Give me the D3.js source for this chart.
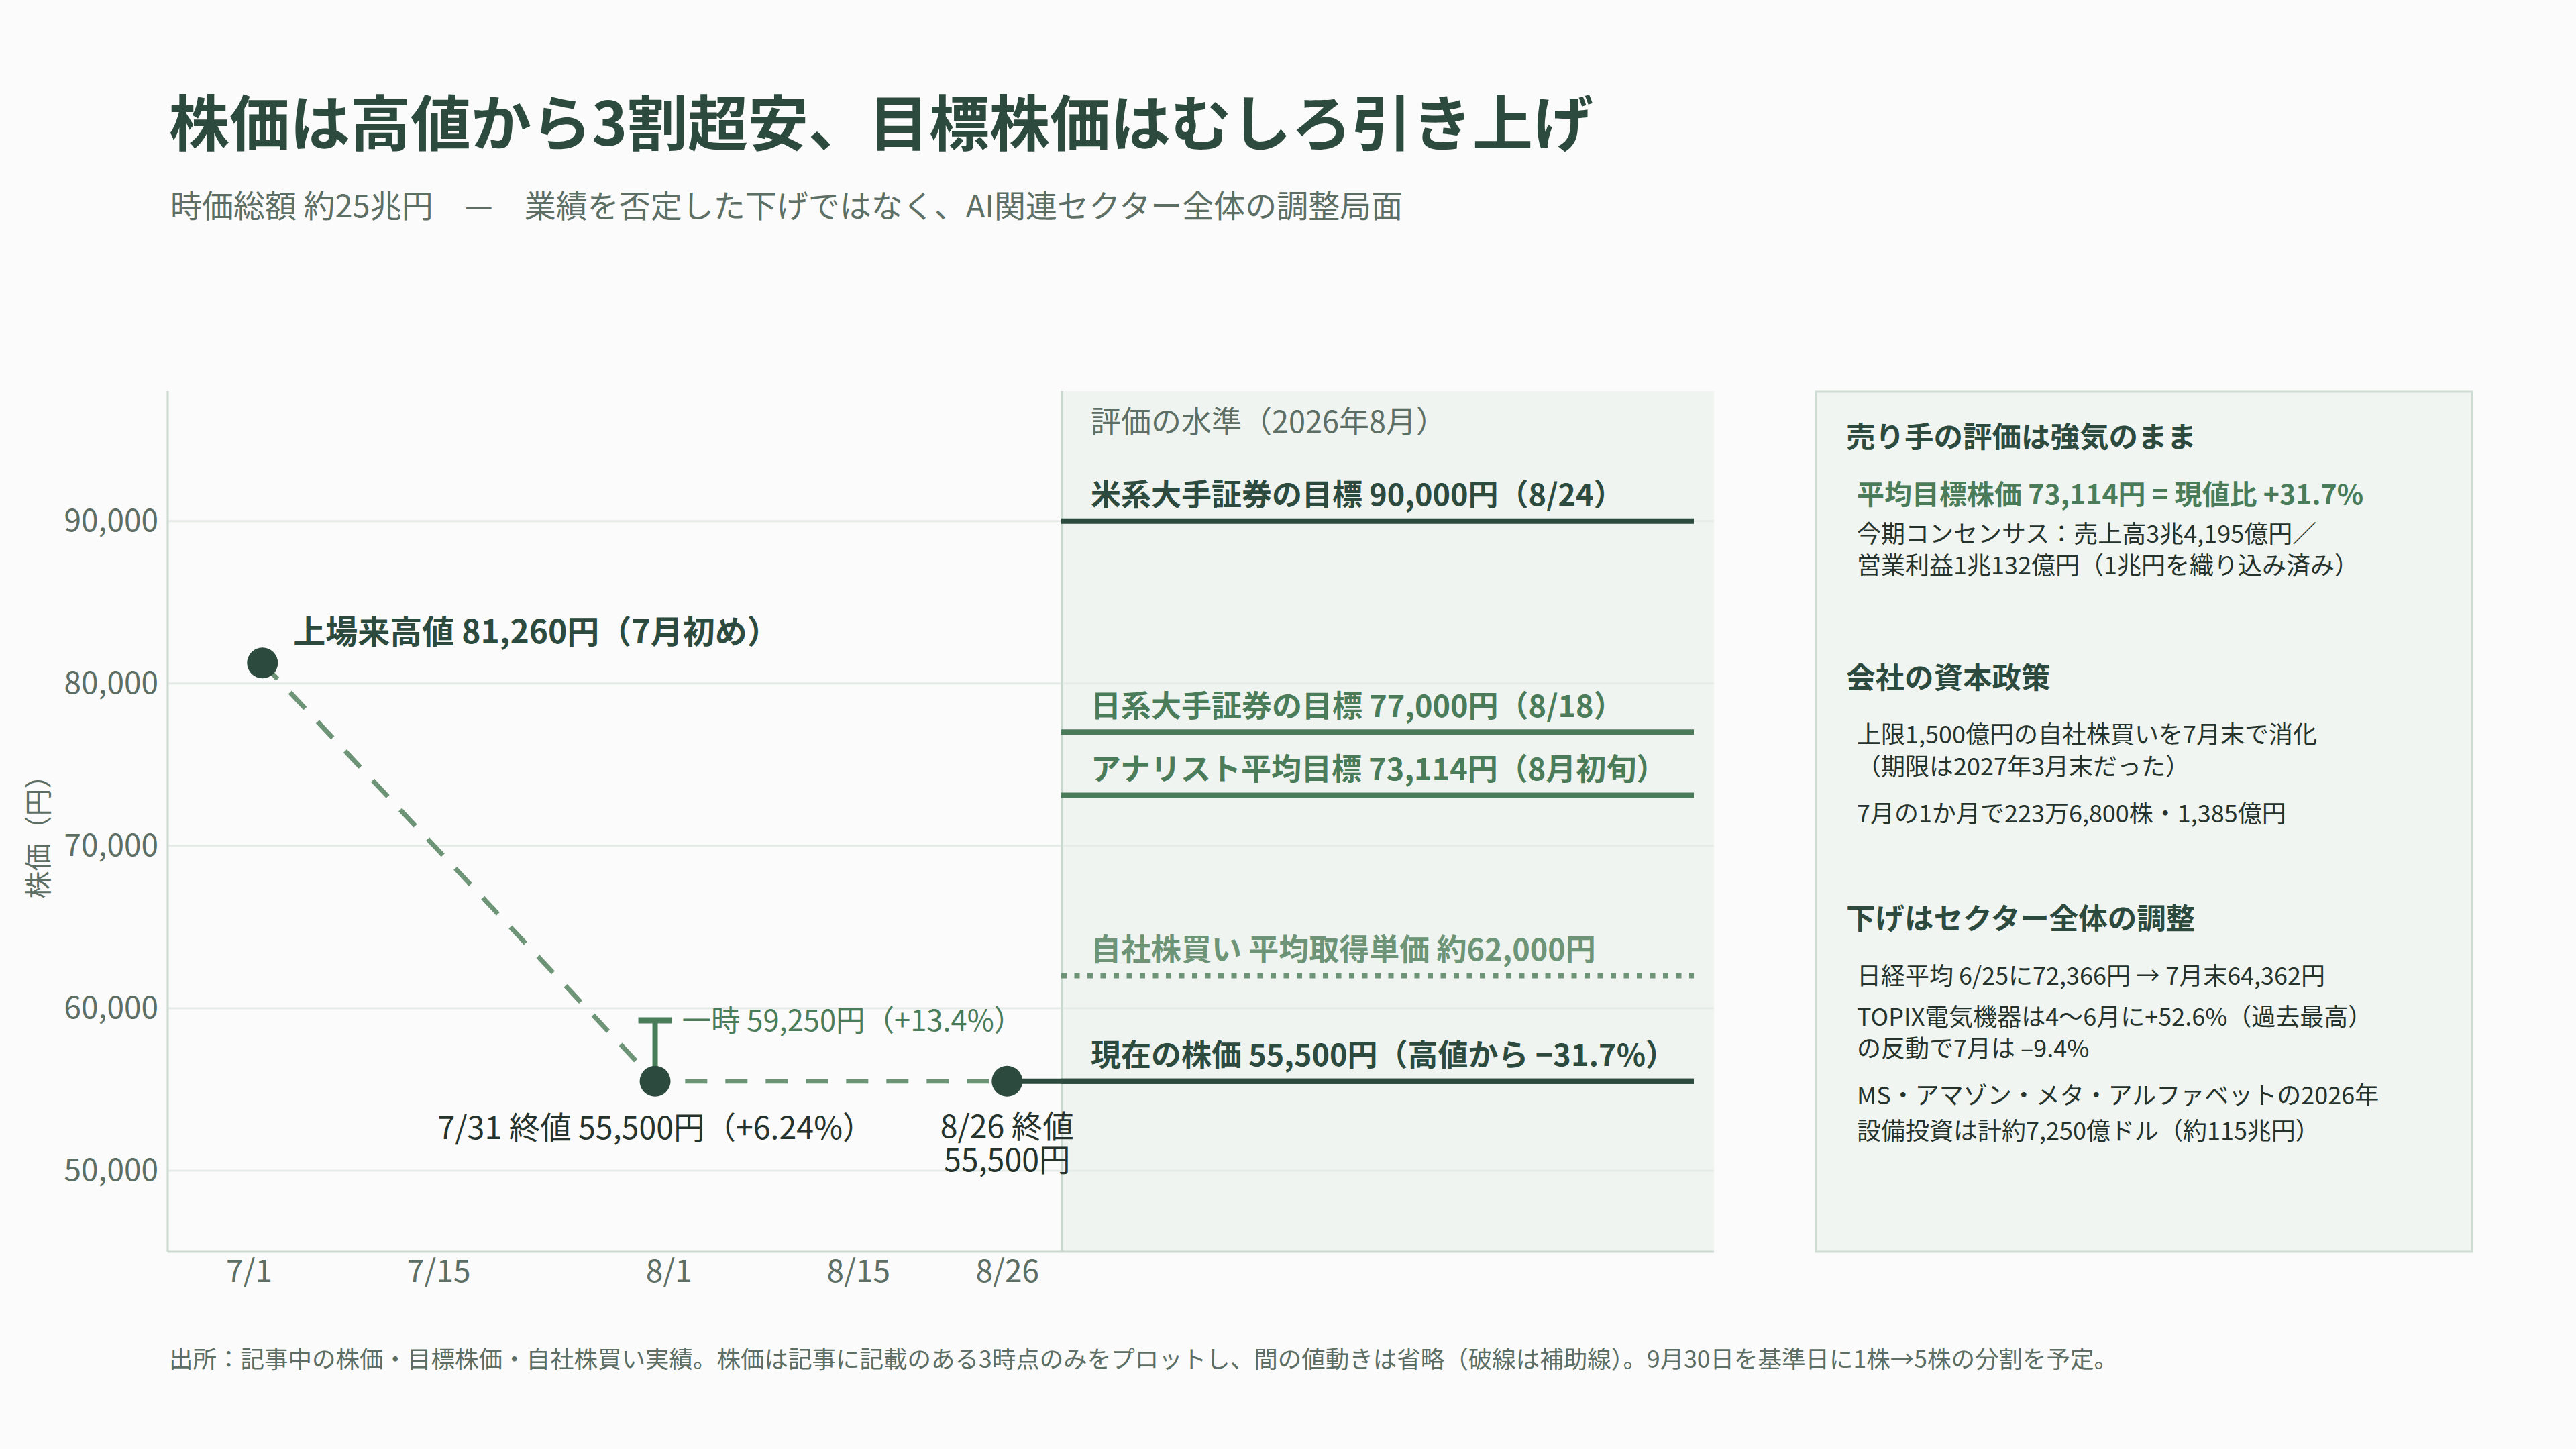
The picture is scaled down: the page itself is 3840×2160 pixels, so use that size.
<!DOCTYPE html>
<html><head><meta charset="utf-8">
<script src="https://cdn.jsdelivr.net/npm/d3@7/dist/d3.min.js"></script>
<style>
html,body{margin:0;padding:0;background:#fafbfa;}
svg{display:block;}
text{font-family:"Noto Sans CJK JP","Noto Sans",sans-serif;}
</style></head>
<body>
<script>
// ---------- data ----------
const priceDates = ["2026-07-02", "2026-07-31", "2026-08-26"];
const priceValues = [81260, 55500, 55500];
const intradayDate = "2026-07-31";
const intradayHigh = 59250;
const yTicks = [50000, 60000, 70000, 80000, 90000];
const xTickDates = ["2026-07-01", "2026-07-15", "2026-08-01", "2026-08-15", "2026-08-26"];
const xTickLabels = ["7/1", "7/15", "8/1", "8/15", "8/26"];
const refLabels = [
  "米系大手証券の目標 90,000円（8/24）",
  "日系大手証券の目標 77,000円（8/18）",
  "アナリスト平均目標 73,114円（8月初旬）",
  "自社株買い 平均取得単価 約62,000円",
  "現在の株価 55,500円（高値から −31.7%）"
];
const refValues = [90000, 77000, 73114, 62000, 55500];
const refKinds = ["dark", "mid", "mid", "dot", "dark"];
const sideSections = [
  {head: "売り手の評価は強気のまま", lines: [
    {t: "平均目標株価 73,114円 = 現値比 +31.7%", em: true},
    {t: "今期コンセンサス：売上高3兆4,195億円／"},
    {t: "営業利益1兆132億円（1兆円を織り込み済み）"}]},
  {head: "会社の資本政策", lines: [
    {t: "上限1,500億円の自社株買いを7月末で消化"},
    {t: "（期限は2027年3月末だった）"},
    {t: "7月の1か月で223万6,800株・1,385億円"}]},
  {head: "下げはセクター全体の調整", lines: [
    {t: "日経平均 6/25に72,366円 → 7月末64,362円"},
    {t: "TOPIX電気機器は4〜6月に+52.6%（過去最高）"},
    {t: "の反動で7月は –9.4%"},
    {t: "MS・アマゾン・メタ・アルファベットの2026年"},
    {t: "設備投資は計約7,250億ドル（約115兆円）"}]}
];

// ---------- setup ----------
const W = 3840, H = 2160;
const C = {dark: "#2d4a3e", mid: "#4b7c5a", light: "#6d9476", grey: "#5d6e64", grid: "#e5ebe7", axis: "#cbd8cf", panel: "#eff4f0", text: "#26332c"};
const svg = d3.select("body").append("svg").attr("width", W).attr("height", H);
svg.append("rect").attr("width", W).attr("height", H).attr("fill", "#fafbfa");

const parse = d3.timeParse("%Y-%m-%d");
const plotL = 250, plotR = 2555, plotT = 583, plotB = 1866, panelL = 1582, lineEnd = 2525;
const x = d3.scaleTime().domain([parse("2026-06-25"), parse("2026-08-30")]).range([plotL, panelL]);
const y = d3.scaleLinear().domain([45000, 98000]).range([plotB, plotT]);

// title
svg.append("text").attr("x", 252).attr("y", 178).attr("dominant-baseline", "central")
  .attr("font-size", 90).attr("font-weight", 700).attr("fill", C.dark)
  .text("株価は高値から3割超安、目標株価はむしろ引き上げ");
svg.append("text").attr("x", 254).attr("y", 303).attr("dominant-baseline", "central")
  .attr("font-size", 47).attr("fill", C.grey)
  .text("時価総額 約25兆円　—　業績を否定した下げではなく、AI関連セクター全体の調整局面");

// panel
svg.append("rect").attr("x", panelL).attr("y", plotT).attr("width", plotR - panelL).attr("height", plotB - plotT).attr("fill", C.panel);

// gridlines
svg.append("g").selectAll("line").data(yTicks).join("line")
  .attr("x1", plotL).attr("x2", plotR).attr("y1", d => y(d)).attr("y2", d => y(d))
  .attr("stroke", C.grid).attr("stroke-width", 3);

// panel border
svg.append("line").attr("x1", panelL + 1).attr("x2", panelL + 1).attr("y1", plotT).attr("y2", plotB)
  .attr("stroke", C.axis).attr("stroke-width", 4);

// axes
const yAxis = d3.axisLeft(y).tickValues(yTicks).tickSize(0).tickPadding(14).tickFormat(d3.format(","));
const gy = svg.append("g").attr("transform", `translate(${plotL},0)`).call(yAxis);
gy.select(".domain").remove();
gy.selectAll("text").attr("font-size", 46).attr("fill", C.grey).attr("font-family", '"Noto Sans CJK JP",sans-serif');
svg.append("line").attr("x1", plotL).attr("x2", plotL).attr("y1", plotT).attr("y2", plotB).attr("stroke", C.axis).attr("stroke-width", 3);

const xAxis = d3.axisBottom(x).tickValues(xTickDates.map(parse)).tickSize(0).tickPadding(12)
  .tickFormat((d, i) => xTickLabels[i]);
const gx = svg.append("g").attr("transform", `translate(0,${plotB})`).call(xAxis);
gx.select(".domain").remove();
gx.selectAll("text").attr("font-size", 46).attr("fill", C.grey).attr("font-family", '"Noto Sans CJK JP",sans-serif');
svg.append("line").attr("x1", plotL).attr("x2", plotR).attr("y1", plotB).attr("y2", plotB).attr("stroke", C.axis).attr("stroke-width", 3);

svg.append("text").attr("transform", `translate(54,1237) rotate(-90)`).attr("text-anchor", "middle")
  .attr("dominant-baseline", "central").attr("font-size", 41).attr("fill", C.grey).text("株価（円）");

// panel header
svg.append("text").attr("x", 1626).attr("y", 625).attr("dominant-baseline", "central")
  .attr("font-size", 45).attr("fill", C.grey).text("評価の水準（2026年8月）");

// reference lines
const refColor = k => k === "dark" ? C.dark : (k === "mid" ? C.mid : C.light);
refValues.forEach((v, i) => {
  const k = refKinds[i];
  svg.append("line").attr("x1", panelL).attr("x2", lineEnd).attr("y1", y(v)).attr("y2", y(v))
    .attr("stroke", refColor(k)).attr("stroke-width", 8)
    .attr("stroke-dasharray", k === "dot" ? "8 11.5" : null);
  svg.append("text").attr("x", 1626).attr("y", y(v) - 42).attr("dominant-baseline", "central")
    .attr("font-size", 45).attr("font-weight", 700).attr("fill", refColor(k)).text(refLabels[i]);
});

// price path (dashed helper)
const pts = priceDates.map((d, i) => [x(parse(d)), y(priceValues[i])]);
svg.append("path").attr("d", d3.line()(pts)).attr("fill", "none")
  .attr("stroke", C.light).attr("stroke-width", 7).attr("stroke-dasharray", "33 27");

// current solid line
svg.append("line").attr("x1", pts[2][0]).attr("x2", lineEnd).attr("y1", pts[2][1]).attr("y2", pts[2][1])
  .attr("stroke", C.dark).attr("stroke-width", 8);

// intraday high
const ix = x(parse(intradayDate));
svg.append("line").attr("x1", ix).attr("x2", ix).attr("y1", y(priceValues[1])).attr("y2", y(intradayHigh))
  .attr("stroke", C.mid).attr("stroke-width", 8);
svg.append("line").attr("x1", ix - 25).attr("x2", ix + 25).attr("y1", y(intradayHigh)).attr("y2", y(intradayHigh))
  .attr("stroke", C.mid).attr("stroke-width", 9);
svg.append("text").attr("x", ix + 40).attr("y", y(intradayHigh) - 3).attr("dominant-baseline", "central")
  .attr("font-size", 43.5).attr("fill", C.mid).text("一時 59,250円（+13.4%）");

// dots
svg.append("g").selectAll("circle").data(pts).join("circle")
  .attr("cx", d => d[0]).attr("cy", d => d[1]).attr("r", 23).attr("fill", C.dark);

// point labels
svg.append("text").attr("x", pts[0][0] + 46).attr("y", pts[0][1] - 50).attr("dominant-baseline", "central")
  .attr("font-size", 48).attr("font-weight", 700).attr("fill", C.dark).text("上場来高値 81,260円（7月初め）");
svg.append("text").attr("x", pts[1][0] + 1).attr("y", pts[1][1] + 66).attr("text-anchor", "middle").attr("dominant-baseline", "central")
  .attr("font-size", 46.5).attr("fill", C.text).text("7/31 終値 55,500円（+6.24%）");
const l3 = svg.append("text").attr("text-anchor", "middle").attr("font-size", 46.5).attr("fill", C.text);
l3.append("tspan").attr("x", pts[2][0]).attr("y", pts[2][1] + 84).text("8/26 終値");
l3.append("tspan").attr("x", pts[2][0]).attr("dy", 50).text("55,500円");

// side box
svg.append("rect").attr("x", 2707).attr("y", 584).attr("width", 978).attr("height", 1282)
  .attr("fill", "#f0f5f1").attr("stroke", "#cfdcd3").attr("stroke-width", 3);
const headY = [648, 1007, 1366];
const lineYs = [[734, 793, 840], [1092, 1140, 1210], [1452, 1513, 1560, 1630, 1683]];
sideSections.forEach((s, si) => {
  svg.append("text").attr("x", 2752).attr("y", headY[si]).attr("dominant-baseline", "central")
    .attr("font-size", 43.5).attr("font-weight", 700).attr("fill", C.dark).text(s.head);
  s.lines.forEach((l, li) => {
    svg.append("text").attr("x", 2768).attr("y", lineYs[si][li]).attr("dominant-baseline", "central")
      .attr("font-size", l.em ? 41 : 36).attr("font-weight", l.em ? 700 : 400)
      .attr("fill", l.em ? C.mid : C.text).text(l.t);
  });
});

// footnote
svg.append("text").attr("x", 252).attr("y", 2023).attr("dominant-baseline", "central")
  .attr("font-size", 35.5).attr("fill", C.grey)
  .text("出所：記事中の株価・目標株価・自社株買い実績。株価は記事に記載のある3時点のみをプロットし、間の値動きは省略（破線は補助線）。9月30日を基準日に1株→5株の分割を予定。");
</script>
</body></html>
